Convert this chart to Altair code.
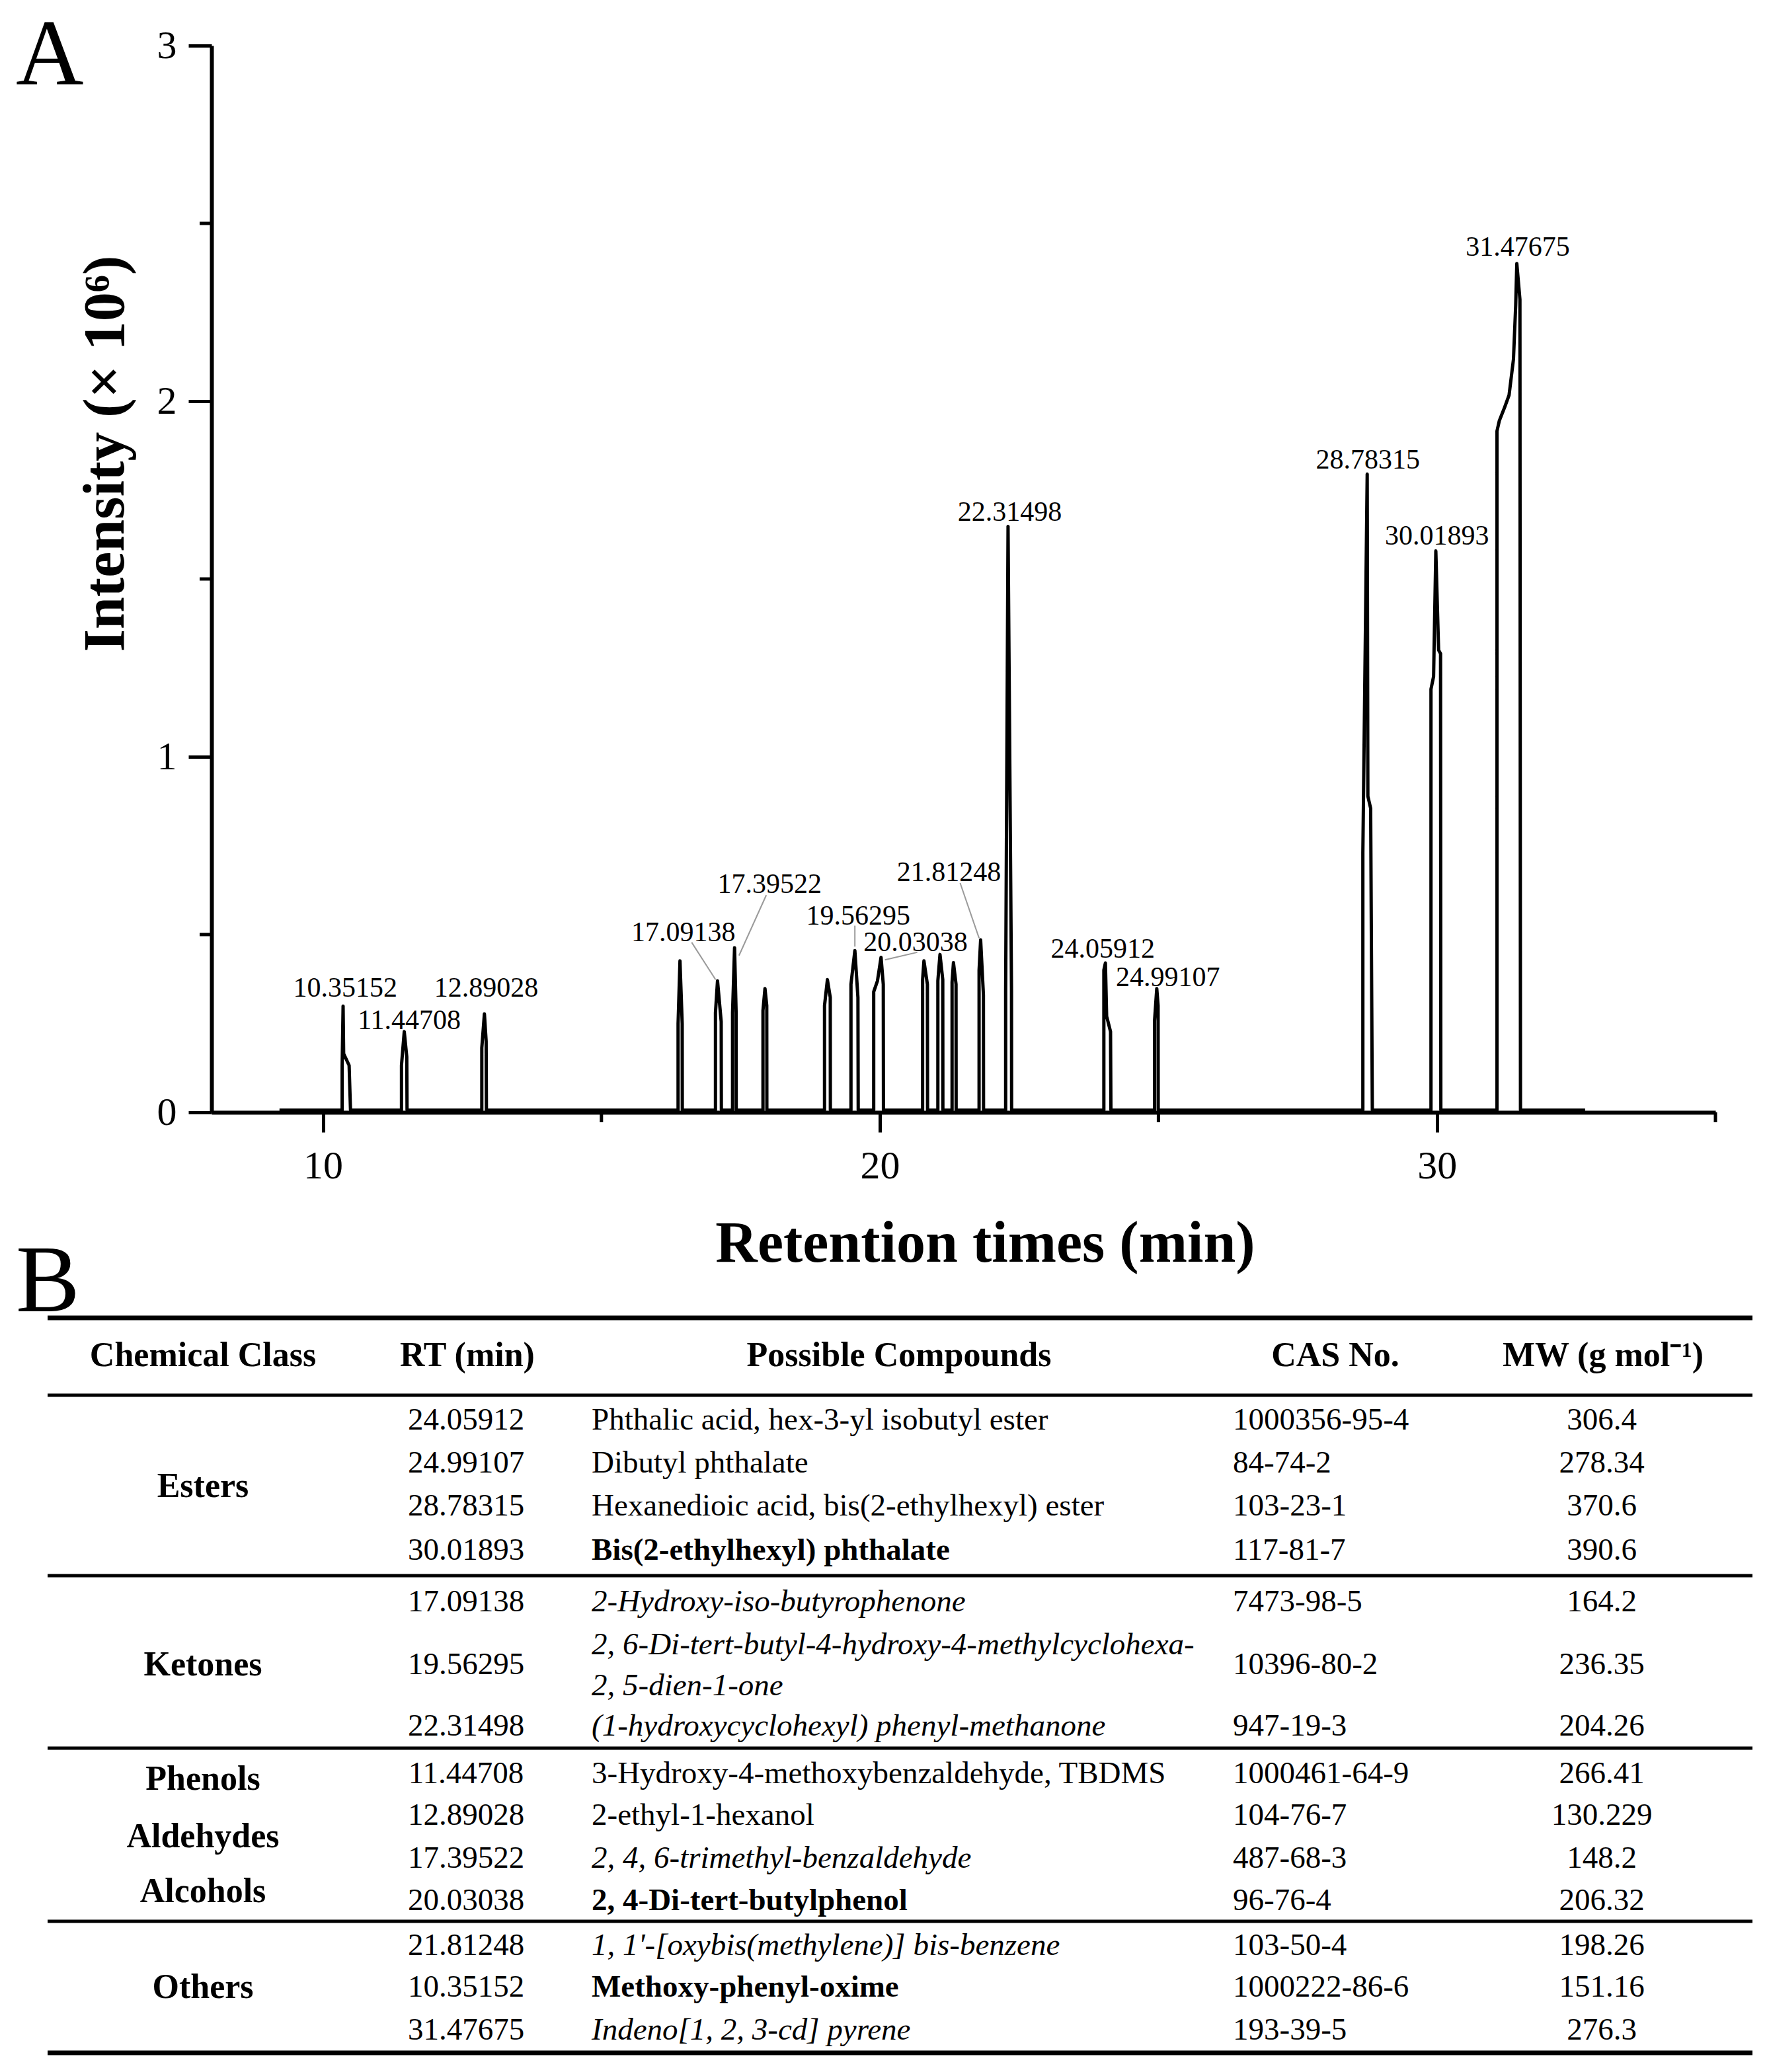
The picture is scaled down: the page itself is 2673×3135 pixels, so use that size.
import altair as alt
import pandas as pd

SERIF = "Liberation Serif"
B = 0.006  # baseline level of the trace (x 10^6)

# ---------------- Panel A : chromatogram (retention time in min, intensity x 10^6) ----------------
trace_start_t, trace_end_t = 9.22, 32.66

peak_t = [
    [10.345, 10.345, 10.362, 10.372, 10.47, 10.495],
    [11.41, 11.41, 11.46, 11.505, 11.51],
    [12.852, 12.852, 12.899, 12.93, 12.935],
    [16.376, 16.376, 16.41, 16.45, 16.452],
    [17.047, 17.047, 17.084, 17.15, 17.153],
    [17.354, 17.354, 17.39, 17.418, 17.42],
    [17.90, 17.90, 17.936, 17.968, 17.97],
    [19.005, 19.005, 19.057, 19.108, 19.11],
    [19.48, 19.48, 19.55, 19.605, 19.61],
    [19.888, 19.888, 19.956, 20.02, 20.06, 20.063],
    [20.766, 20.766, 20.79, 20.852, 20.855],
    [21.04, 21.04, 21.078, 21.128, 21.13],
    [21.295, 21.295, 21.32, 21.366, 21.368],
    [21.78, 21.78, 21.808, 21.858, 21.86],
    [22.257, 22.257, 22.30, 22.362, 22.364],
    [24.02, 24.02, 24.048, 24.07, 24.14, 24.147],
    [24.93, 24.93, 24.97, 24.994, 24.996],
    [28.67, 28.67, 28.748, 28.76, 28.81, 28.84],
    [29.893, 29.893, 29.94, 29.98, 30.03, 30.065, 30.07],
    [31.078, 31.078, 31.12, 31.216, 31.295, 31.374, 31.414, 31.434, 31.49, 31.50],
]
peak_h = [
    [B, 0.13, 0.299, 0.165, 0.132, B],
    [B, 0.132, 0.227, 0.156, B],
    [B, 0.181, 0.277, 0.20, B],
    [B, 0.249, 0.426, 0.249, B],
    [B, 0.28, 0.37, 0.255, B],
    [B, 0.28, 0.463, 0.28, B],
    [B, 0.286, 0.348, 0.30, B],
    [B, 0.30, 0.373, 0.323, B],
    [B, 0.36, 0.455, 0.323, B],
    [B, 0.339, 0.37, 0.436, 0.36, B],
    [B, 0.373, 0.426, 0.36, B],
    [B, 0.37, 0.444, 0.373, B],
    [B, 0.366, 0.421, 0.36, B],
    [B, 0.40, 0.485, 0.33, B],
    [B, 0.342, 1.648, 0.342, B],
    [B, 0.40, 0.42, 0.27, 0.227, B],
    [B, 0.257, 0.348, 0.30, B],
    [B, 0.729, 1.795, 0.889, 0.855, B],
    [B, 1.19, 1.226, 1.579, 1.30, 1.29, B],
    [B, 1.916, 1.945, 1.983, 2.017, 2.118, 2.27, 2.387, 2.286, B],
]

label_text = ["10.35152", "11.44708", "12.89028", "17.09138", "17.39522", "19.56295", "20.03038",
              "21.81248", "22.31498", "24.05912", "24.99107", "28.78315", "30.01893", "31.47675"]
label_x = [10.40, 11.55, 12.93, 16.47, 18.02, 19.61, 20.64, 21.24, 22.33, 24.00, 25.17, 28.76, 30.00, 31.45]
label_y = [0.349, 0.258, 0.349, 0.505, 0.641, 0.552, 0.477, 0.675, 1.687, 0.459, 0.379, 1.835, 1.621, 2.433]

leader_x1 = [16.62, 17.96, 19.55, 20.67, 21.44]
leader_y1 = [0.478, 0.611, 0.525, 0.450, 0.645]
leader_x2 = [17.05, 17.47, 19.55, 20.09, 21.78]
leader_y2 = [0.373, 0.441, 0.466, 0.429, 0.490]

x_major = [10, 20, 30]
x_minor = [15, 25, 35]
y_major = [0, 1, 2, 3]
y_minor = [0.5, 1.5, 2.5]

# ---------------- Panel B : table ----------------
header_text = ["Chemical Class", "RT (min)", "Possible Compounds", "CAS No.", "MW (g mol\u207b\u00b9)"]
header_x = [307, 707, 1360, 2020, 2425]
header_y = 2052

class_text = ["Esters", "Ketones", "Phenols", "Aldehydes", "Alcohols", "Others"]
class_y = [2250, 2520, 2693, 2780, 2863, 3008]

rt_text = ["24.05912", "24.99107", "28.78315", "30.01893", "17.09138", "19.56295", "22.31498",
           "11.44708", "12.89028", "17.39522", "20.03038", "21.81248", "10.35152", "31.47675"]
cas_text = ["1000356-95-4", "84-74-2", "103-23-1", "117-81-7", "7473-98-5", "10396-80-2", "947-19-3",
            "1000461-64-9", "104-76-7", "487-68-3", "96-76-4", "103-50-4", "1000222-86-6", "193-39-5"]
mw_text = ["306.4", "278.34", "370.6", "390.6", "164.2", "236.35", "204.26",
           "266.41", "130.229", "148.2", "206.32", "198.26", "151.16", "276.3"]
row_y = [2150, 2215, 2280, 2347, 2425, 2520, 2613, 2685, 2748, 2813, 2877, 2945, 3008, 3073]

cmp_text = ["Phthalic acid, hex-3-yl isobutyl ester", "Dibutyl phthalate",
            "Hexanedioic acid, bis(2-ethylhexyl) ester", "Bis(2-ethylhexyl) phthalate",
            "2-Hydroxy-iso-butyrophenone", "2, 6-Di-tert-butyl-4-hydroxy-4-methylcyclohexa-",
            "2, 5-dien-1-one", "(1-hydroxycyclohexyl) phenyl-methanone",
            "3-Hydroxy-4-methoxybenzaldehyde, TBDMS", "2-ethyl-1-hexanol",
            "2, 4, 6-trimethyl-benzaldehyde", "2, 4-Di-tert-butylphenol",
            "1, 1'-[oxybis(methylene)] bis-benzene", "Methoxy-phenyl-oxime", "Indeno[1, 2, 3-cd] pyrene"]
cmp_style = ["normal", "normal", "normal", "bold", "italic", "italic", "italic", "italic",
             "normal", "normal", "italic", "bold", "italic", "bold", "italic"]
cmp_y = [2150, 2215, 2280, 2347, 2425, 2490, 2552, 2613, 2685, 2748, 2813, 2877, 2945, 3008, 3073]

col_class_x, col_rt_x, col_cmp_x, col_cas_x, col_mw_x = 307, 705, 895, 1865, 2423
table_left, table_right = 72, 2651
rule_y = [1995, 2112, 2385, 2646, 2908, 3107]
rule_w = [7, 5, 5, 5, 5, 7]

# ================= build panel A =================
W_A, H_A = 2275, 1614
pts_t, pts_h = [trace_start_t], [B]
for ts, hs in zip(peak_t, peak_h):
    pts_t += ts
    pts_h += hs
pts_t.append(trace_end_t)
pts_h.append(B)
trace = pd.DataFrame({"t": pts_t, "h": pts_h, "i": list(range(len(pts_t)))})

xs = alt.Scale(domain=[8, 35], nice=False, zero=False)
ys = alt.Scale(domain=[0, 3], nice=False, zero=False)

x_axis = alt.Axis(values=x_major, format="d", grid=False, domainColor="black", domainWidth=6,
                  tickColor="black", tickWidth=5, tickSize=30, labelFont=SERIF, labelFontSize=60,
                  labelColor="black", labelPadding=22, labelFlush=False, labelOverlap=False,
                  title="Retention times (min)", titleFont=SERIF, titleFontSize=88, titleFontWeight="bold",
                  titleColor="black", titleX=1170, titleY=155, titleBaseline="top")
y_axis = alt.Axis(values=y_major, format="d", grid=False, domainColor="black", domainWidth=6,
                  tickColor="black", tickWidth=5, tickSize=35, labelFont=SERIF, labelFontSize=60,
                  labelColor="black", labelPadding=18, labelOverlap=False,
                  title="Intensity (\u00d7 10\u2076)", titleFont=SERIF, titleFontSize=88, titleFontWeight="bold",
                  titleColor="black", titleX=-134, titleY=617, titleBaseline="alphabetic")

line = alt.Chart(trace).mark_line(color="black", strokeWidth=5, strokeJoin="round").encode(
    x=alt.X("t:Q", scale=xs, axis=x_axis),
    y=alt.Y("h:Q", scale=ys, axis=y_axis),
    order="i:Q",
)

leaders = alt.Chart(pd.DataFrame({"x1": leader_x1, "y1": leader_y1, "x2": leader_x2, "y2": leader_y2})
                    ).mark_rule(color="#9a9a9a", strokeWidth=2).encode(
    x=alt.X("x1:Q", scale=xs, axis=x_axis), y=alt.Y("y1:Q", scale=ys, axis=y_axis), x2="x2:Q", y2="y2:Q")

labels = alt.Chart(pd.DataFrame({"s": label_text, "x": label_x, "y": label_y})).mark_text(
    font=SERIF, fontSize=42, color="black", align="center", baseline="middle").encode(
    x=alt.X("x:Q", scale=xs, axis=x_axis), y=alt.Y("y:Q", scale=ys, axis=y_axis), text="s:N")

x_minor_ticks = alt.Chart(pd.DataFrame({"v": x_minor})).mark_rule(color="black", strokeWidth=5).encode(
    x=alt.X("v:Q", scale=xs, axis=x_axis), y=alt.value(H_A), y2=alt.value(H_A + 15))
y_minor_ticks = alt.Chart(pd.DataFrame({"v": y_minor})).mark_rule(color="black", strokeWidth=5).encode(
    y=alt.Y("v:Q", scale=ys, axis=y_axis), x=alt.value(-18), x2=alt.value(0))

panel_a = alt.layer(line, leaders, labels, x_minor_ticks, y_minor_ticks).properties(
    width=W_A, height=H_A,
    title=alt.TitleParams(text="A", anchor="start", frame="group", font=SERIF, fontSize=142,
                          fontWeight="normal", color="black", dx=-296, dy=230, offset=0,
                          baseline="alphabetic"),
)

# ================= build panel B =================
W_B, H_B = 2331, 1160
bx = alt.Scale(domain=[320, 2651], nice=False, zero=False)
by = alt.Scale(domain=[1960, 3120], nice=False, zero=False, reverse=True)

rules = alt.Chart(pd.DataFrame({"x1": [table_left] * len(rule_y), "x2": [table_right] * len(rule_y),
                                "y": rule_y, "w": rule_w})).mark_rule(color="black").encode(
    x=alt.X("x1:Q", scale=bx, axis=None), x2="x2:Q",
    y=alt.Y("y:Q", scale=by, axis=None),
    strokeWidth=alt.StrokeWidth("w:Q", scale=None, legend=None))


def text_layer(df, align, size, weight="normal", style="normal"):
    return alt.Chart(df).mark_text(font=SERIF, fontSize=size, fontWeight=weight, fontStyle=style,
                                   align=align, baseline="middle", color="black").encode(
        x=alt.X("x:Q", scale=bx, axis=None), y=alt.Y("y:Q", scale=by, axis=None), text="s:N")


hdr = text_layer(pd.DataFrame({"s": header_text, "x": header_x, "y": [header_y] * len(header_text)}),
                 "center", 52, weight="bold")
cls = text_layer(pd.DataFrame({"s": class_text, "x": [col_class_x] * len(class_text), "y": class_y}),
                 "center", 52, weight="bold")
rts = text_layer(pd.DataFrame({"s": rt_text, "x": [col_rt_x] * len(rt_text), "y": row_y}), "center", 47)
cass = text_layer(pd.DataFrame({"s": cas_text, "x": [col_cas_x] * len(cas_text), "y": row_y}), "left", 47)
mws = text_layer(pd.DataFrame({"s": mw_text, "x": [col_mw_x] * len(mw_text), "y": row_y}), "center", 47)

cmp_df = pd.DataFrame({"s": cmp_text, "x": [col_cmp_x] * len(cmp_text), "y": cmp_y, "st": cmp_style})
cmp_normal = text_layer(cmp_df[cmp_df.st == "normal"], "left", 47)
cmp_bold = text_layer(cmp_df[cmp_df.st == "bold"], "left", 47, weight="bold")
cmp_italic = text_layer(cmp_df[cmp_df.st == "italic"], "left", 47, style="italic")

panel_b = alt.layer(rules, hdr, cls, rts, cmp_normal, cmp_bold, cmp_italic, cass, mws).properties(
    width=W_B, height=H_B,
    title=alt.TitleParams(text="B", anchor="start", frame="group", font=SERIF, fontSize=145,
                          fontWeight="normal", color="black", dx=-296, dy=170, offset=0,
                          baseline="alphabetic"),
)

chart = alt.vconcat(panel_a, panel_b, spacing=276, bounds="flush").properties(
    padding={"left": 16, "top": 5, "right": 10, "bottom": 5}
).configure_view(strokeWidth=0)

chart.save("out.html", embed_options={"renderer": "svg", "actions": False})
